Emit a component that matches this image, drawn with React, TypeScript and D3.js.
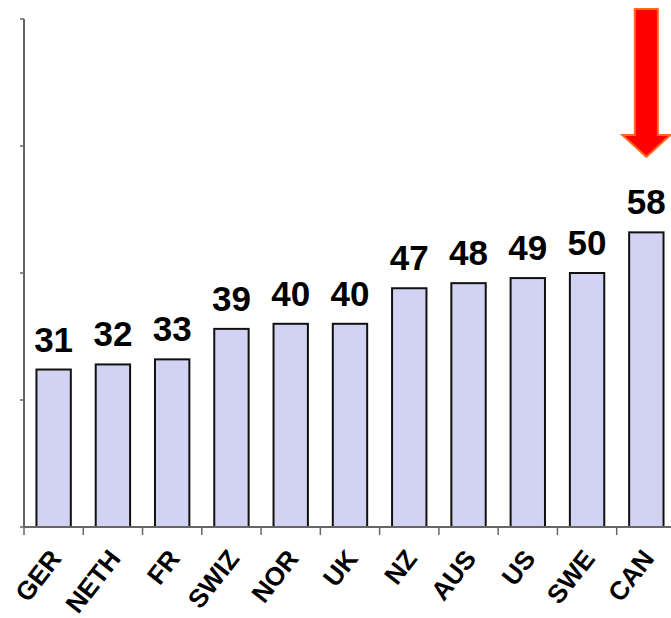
import React from "react";
import * as d3 from "d3";

// Country codes along the x axis and the percentage shown above each bar
const countries = ["GER", "NETH", "FR", "SWIZ", "NOR", "UK", "NZ", "AUS", "US", "SWE", "CAN"];
const values = [31, 32, 33, 39, 40, 40, 47, 48, 49, 50, 58];
const yTicks = [0, 25, 50, 75, 100];
const highlighted = "CAN";

const W = 671;
const H = 618;
const left = 24;
const top = 19;
const bottom = 527;

export default function App() {
  const y = d3.scaleLinear().domain([0, 100]).range([bottom, top]);
  const x = d3
    .scaleBand<string>()
    .domain(countries)
    .range([left, left + 11 * 59.27])
    .paddingInner(0.42)
    .paddingOuter(0.21);
  const step = x.step();
  const font = "'Liberation Sans', Arial, sans-serif";

  // Arrow pointing down at the highlighted bar
  const cx = (x(highlighted) ?? 0) + x.bandwidth() / 2;
  const shaft = 11.5;
  const head = 24;
  const arrowTop = 9;
  const headTop = 135;
  const tip = 157;
  const arrow = d3.path();
  arrow.moveTo(cx - shaft, arrowTop);
  arrow.lineTo(cx + shaft, arrowTop);
  arrow.lineTo(cx + shaft, headTop);
  arrow.lineTo(cx + head, headTop);
  arrow.lineTo(cx, tip);
  arrow.lineTo(cx - head, headTop);
  arrow.lineTo(cx - shaft, headTop);
  arrow.closePath();

  return (
    <svg
      width={W}
      height={H}
      style={{ position: "absolute", left: 0, top: 0, background: "#fff" }}
      fontFamily={font}
    >
      {/* bars */}
      {countries.map((c, i) => (
        <rect
          key={c}
          x={x(c)}
          y={y(values[i])}
          width={x.bandwidth()}
          height={bottom - y(values[i])}
          fill="#d2d2f2"
          stroke="#111"
          strokeWidth={2}
        />
      ))}
      {/* value labels */}
      {countries.map((c, i) => (
        <text
          key={c}
          x={(x(c) ?? 0) + x.bandwidth() / 2}
          y={y(values[i]) - 18}
          textAnchor="middle"
          fontSize={35}
          fontWeight="bold"
          fill="#000"
        >
          {values[i]}
        </text>
      ))}
      {/* y axis */}
      <line x1={left} x2={left} y1={top} y2={bottom} stroke="#666" strokeWidth={2} />
      {yTicks.map((t) => (
        <line key={t} x1={left - 4} x2={left} y1={y(t)} y2={y(t)} stroke="#666" strokeWidth={1.5} />
      ))}
      {/* x axis */}
      <line x1={left} x2={W} y1={bottom} y2={bottom} stroke="#666" strokeWidth={2} />
      {d3.range(countries.length + 1).map((i) => (
        <line
          key={i}
          x1={left + i * step}
          x2={left + i * step}
          y1={bottom}
          y2={bottom + 8}
          stroke="#666"
          strokeWidth={1.5}
        />
      ))}
      {/* category labels */}
      {countries.map((c) => {
        const px = (x(c) ?? 0) + x.bandwidth() / 2 + 9;
        return (
          <text
            key={c}
            transform={`translate(${px},559) rotate(-52)`}
            textAnchor="end"
            fontSize={26}
            fontWeight="bold"
            fill="#000"
          >
            {c}
          </text>
        );
      })}
      <path d={arrow.toString()} fill="#ff0000" stroke="#ff6a1a" strokeWidth={2} />
    </svg>
  );
}
